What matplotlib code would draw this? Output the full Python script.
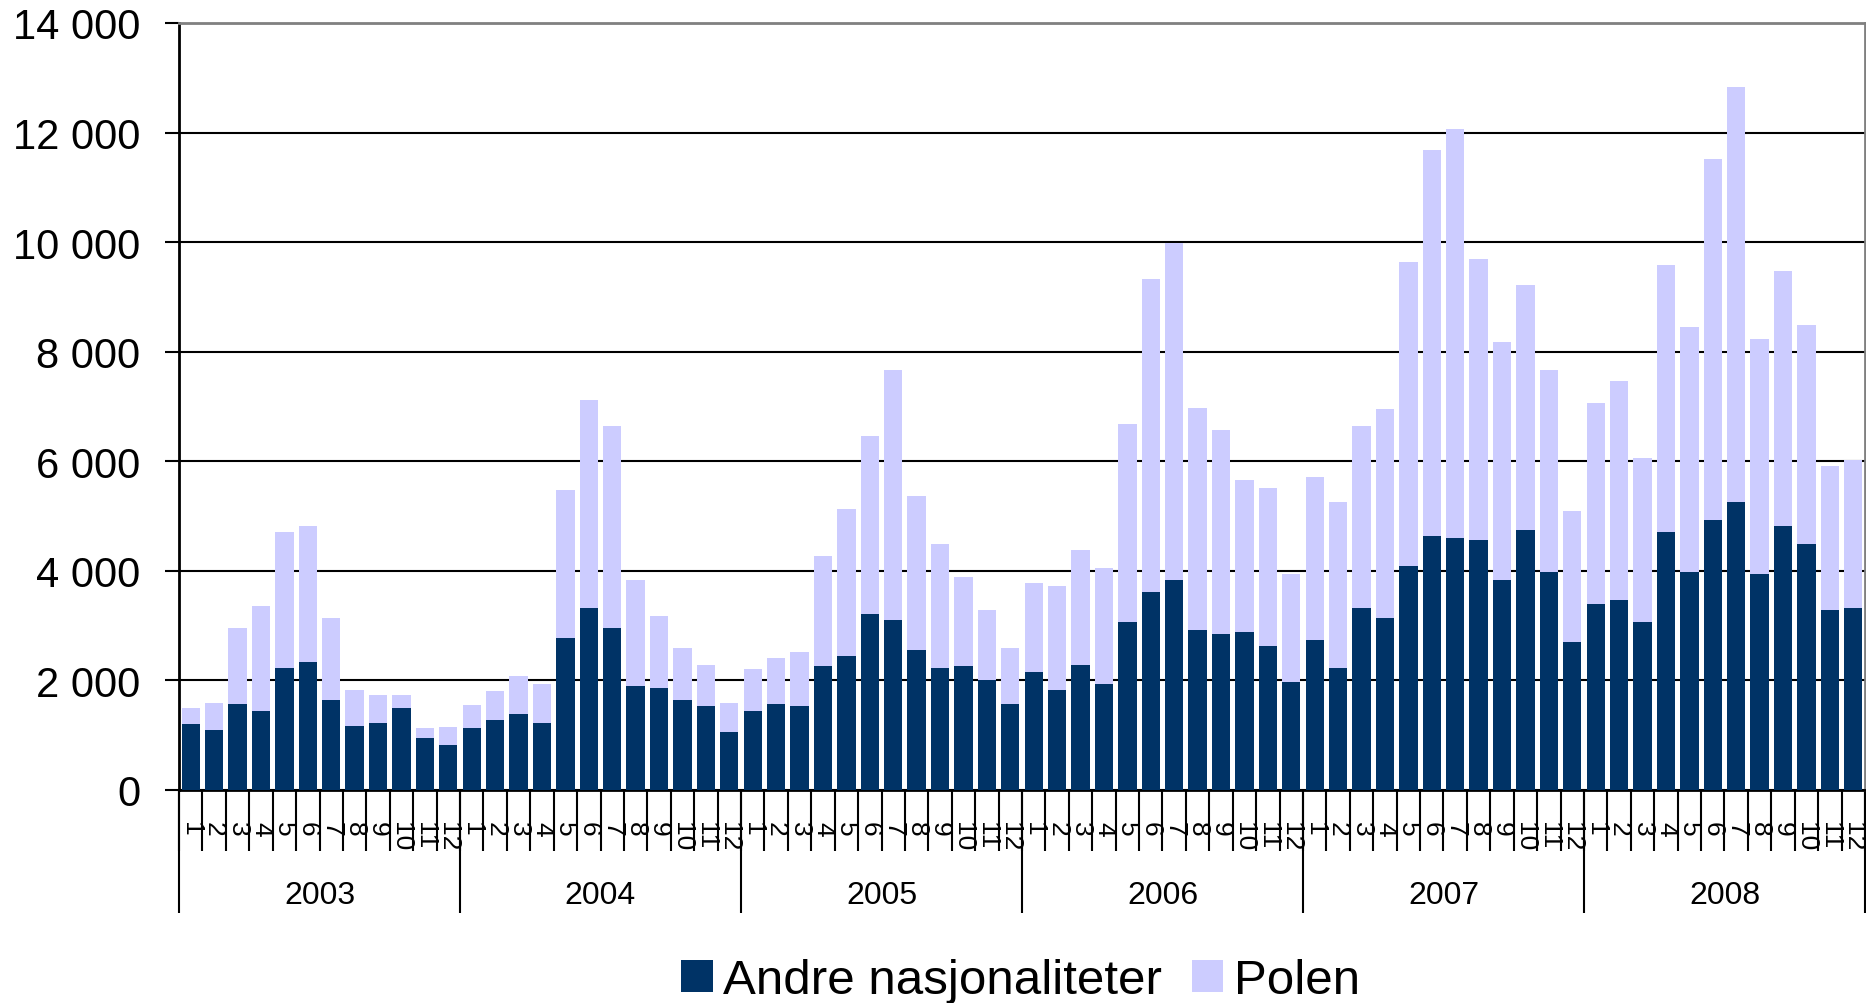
import numpy as np
import matplotlib
matplotlib.use("Agg")
import matplotlib.pyplot as plt
from matplotlib.ticker import FuncFormatter

plt.rcParams['font.family'] = ['Liberation Sans', 'DejaVu Sans']

years = ['2003', '2004', '2005', '2006', '2007', '2008']
months = [str(m) for m in range(1, 13)]

# Andre nasjonaliteter (bottom part of each bar)
andre = [
    1200, 1090, 1570, 1450, 2230, 2330, 1640, 1170, 1230, 1490, 950, 830,
    1130, 1270, 1390, 1230, 2770, 3320, 2950, 1890, 1860, 1640, 1530, 1050,
    1450, 1570, 1530, 2260, 2450, 3210, 3100, 2550, 2230, 2260, 2010, 1570,
    2150, 1830, 2290, 1930, 3070, 3610, 3830, 2920, 2850, 2880, 2630, 1970,
    2730, 2230, 3320, 3140, 4090, 4640, 4600, 4560, 3830, 4750, 3980, 2700,
    3390, 3470, 3070, 4710, 3980, 4930, 5260, 3940, 4820, 4490, 3290, 3320,
]

# Polen (stacked on top)
polen = [
    290, 500, 1390, 1900, 2480, 2490, 1500, 660, 500, 240, 180, 320,
    420, 540, 690, 700, 2710, 3790, 3690, 1940, 1320, 960, 760, 540,
    760, 840, 980, 2020, 2670, 3250, 4570, 2820, 2260, 1620, 1280, 1020,
    1630, 1890, 2090, 2120, 3610, 5710, 6150, 4060, 3730, 2780, 2890, 1970,
    2980, 3030, 3330, 3810, 5540, 7040, 7460, 5130, 4350, 4460, 3680, 2400,
    3670, 3990, 2990, 4880, 4470, 6580, 7570, 4300, 4650, 3990, 2630, 2710,
]

dark = '#003366'
light = '#CCCCFF'

fig = plt.figure(figsize=(18.66, 10.04), dpi=100)
ax = fig.add_axes([179 / 1866, 1 - 791 / 1004, 1686 / 1866, 767 / 1004])

x = np.arange(len(andre))
ax.bar(x, andre, width=0.78, color=dark, label='Andre nasjonaliteter', zorder=3)
ax.bar(x, polen, width=0.78, bottom=andre, color=light, label='Polen', zorder=3)

ax.set_xlim(-0.5, len(andre) - 0.5)
ax.set_ylim(0, 14000)
ax.set_yticks(np.arange(0, 14001, 2000))
ax.yaxis.set_major_formatter(FuncFormatter(lambda v, p: '{:,.0f}'.format(v).replace(',', ' ')))
ax.yaxis.grid(True, color='black', linewidth=1.5, zorder=0)
ax.tick_params(axis='y', labelsize=30, length=10, width=1.5, pad=18)

# month labels under each bar, tick marks between months
ax.set_xticks(x)
ax.set_xticklabels(months * len(years), rotation=-90,
                   family=['Liberation Sans Narrow', 'Liberation Sans'], fontsize=19)
ax.tick_params(axis='x', which='major', length=0, pad=22)
ax.set_xticks(np.arange(-0.5, len(andre)), minor=True)
ax.tick_params(axis='x', which='minor', length=44, width=1.5, color='black')

# year separators and year labels
sep = ax.secondary_xaxis('bottom')
sep.set_xticks(np.arange(-0.5, len(andre) + 1, 12))
sep.set_xticklabels([])
sep.tick_params(length=88.5, width=1.5)
sep.spines['bottom'].set_visible(False)

yr = ax.secondary_xaxis('bottom')
yr.set_xticks(np.arange(5.5, len(andre), 12))
yr.set_xticklabels(years, fontsize=23)
yr.tick_params(length=0, pad=65)
yr.spines['bottom'].set_visible(False)

for side in ['top', 'right']:
    ax.spines[side].set_color('#808080')
    ax.spines[side].set_linewidth(2)
ax.spines['left'].set_linewidth(2)
ax.spines['bottom'].set_linewidth(2)

fig.legend(loc='center', bbox_to_anchor=(0.547, 0.022), ncol=2, frameon=False,
           fontsize=35.5, handlelength=0.64, handleheight=0.64,
           handletextpad=0.22, columnspacing=0.6, borderpad=0)

fig.savefig('out.png', dpi=100)
